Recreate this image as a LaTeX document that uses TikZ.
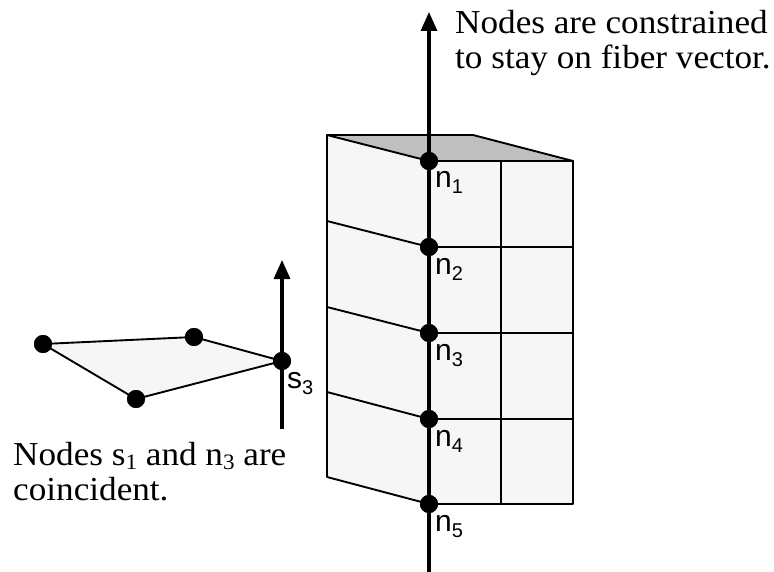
\documentclass[tikz,border=0pt]{standalone}
\usepackage{fontspec}
\setmainfont[FakeStretch=1.05]{Liberation Serif}
\newfontfamily\lblfont{Liberation Sans}
\usetikzlibrary{arrows.meta}
\definecolor{facefill}{HTML}{F6F6F6}
\definecolor{topfill}{HTML}{BFBFBF}
\tikzset{
  dot/.style={circle,fill=black,draw=none,inner sep=0pt,minimum size=18pt},
  edge/.style={line width=1.9pt,black,line cap=round,line join=round},
  fiber/.style={line width=3.2pt,black,-{Triangle[length=19pt,width=16pt]}},
  lbl/.style={inner sep=0pt,anchor=base west,font=\lblfont\fontsize{30}{30}\selectfont},
  note/.style={inner sep=0pt,anchor=base west,font=\fontsize{33.5}{35}\selectfont}
}
\newcommand{\lab}[2]{#1\raisebox{-6pt}{\fontsize{20}{20}\selectfont #2}}
\newcommand{\notesub}[1]{\raisebox{-4pt}{\fontsize{22}{22}\selectfont #1}}
\begin{document}
\begin{tikzpicture}[x=1pt,y=-1pt]
\useasboundingbox (0,0) rectangle (774,572);
% corner coordinates
\coordinate (tl) at (327,135);
\coordinate (tb) at (473,135);
\coordinate (tr) at (573,161);
\coordinate (bl) at (327,477);
\coordinate (l2) at (327,221);
\coordinate (l3) at (327,307);
\coordinate (l4) at (327,392);
\coordinate (r2) at (573,247);
\coordinate (r3) at (573,333);
\coordinate (r4) at (573,419);
\coordinate (br) at (573,504);
\coordinate (m1) at (501,161);
\coordinate (m5) at (501,504);
\coordinate (ftop) at (429,12);
\coordinate (fbot) at (429,572);
\coordinate (stop) at (282,260);
\coordinate (sbot) at (282,429);
% faces
\fill[facefill] (tl) -- (tr) -- (br) -- (429,504) -- (bl) -- cycle;
\fill[topfill] (tl) -- (tb) -- (tr) -- (429,161) -- cycle;
\fill[facefill] (43,344) -- (194,337) -- (282,361) -- (136,399) -- cycle;
% nodes
\node[dot] (n1) at (429,161) {};
\node[dot] (n2) at (429,247) {};
\node[dot] (n3) at (429,333) {};
\node[dot] (n4) at (429,419) {};
\node[dot] (n5) at (429,504) {};
\node[dot] (s1) at (43,344) {};
\node[dot] (s2) at (194,337) {};
\node[dot] (s3) at (282,361) {};
\node[dot] (s4) at (136,399) {};
% mesh lines
\draw[edge] (bl) -- (tl) -- (tb) -- (tr) -- (br) -- (n5.center) -- (bl);
\draw[edge] (tl) -- (n1.center) -- (tr);
\draw[edge] (l2) -- (n2.center) -- (r2);
\draw[edge] (l3) -- (n3.center) -- (r3);
\draw[edge] (l4) -- (n4.center) -- (r4);
\draw[edge] (m1) -- (m5);
\draw[edge] (s1.center) -- (s2.center) -- (s3.center) -- (s4.center) -- cycle;
% fibers
\draw[fiber] (fbot) -- (ftop);
\draw[fiber] (sbot) -- (stop);
% dots on top of the lines
\foreach \p in {n1,n2,n3,n4,n5,s1,s2,s3,s4} \fill (\p) circle (9pt);
% labels
\node[lbl] (ln1) at (435,188) {\lab{n}{1}};
\node[lbl] (ln2) at (435,274) {\lab{n}{2}};
\node[lbl] (ln3) at (435,360) {\lab{n}{3}};
\node[lbl] (ln4) at (435,446) {\lab{n}{4}};
\node[lbl] (ln5) at (435,531) {\lab{n}{5}};
\node[lbl] (ls3) at (287,388) {\lab{s}{3}};
% notes
\node[note] (t1) at (455,34) {Nodes are constrained};
\node[note] (t2) at (455,69) {to stay on fiber vector.};
\node[note] (t3) at (13,465) {Nodes s\notesub{1} and n\notesub{3} are};
\node[note] (t4) at (13,500) {coincident.};
\end{tikzpicture}
\end{document}
